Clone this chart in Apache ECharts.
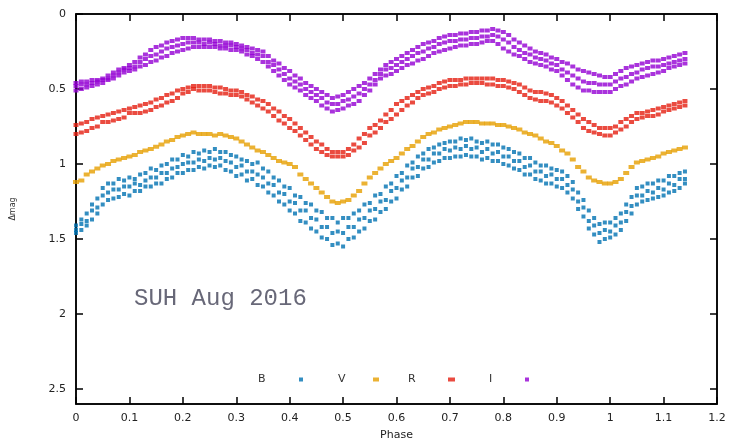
<!DOCTYPE html>
<html>
<head>
<meta charset="utf-8">
<title>SUH Aug 2016 light curves</title>
<script src="https://cdn.jsdelivr.net/npm/echarts@6/dist/echarts.min.js"></script>
<style>
  html, body { margin: 0; padding: 0; background: #fff; }
  #chart { width: 729px; height: 441px; }
</style>
</head>
<body>
<div id="chart"></div>
<script>
// Phase of each sample (one sample per 0.01 in phase, 0 .. 1.14)
const PHASE = [
  0.00,0.01,0.02,0.03,0.04,0.05,0.06,0.07,0.08,0.09,
  0.10,0.11,0.12,0.13,0.14,0.15,0.16,0.17,0.18,0.19,
  0.20,0.21,0.22,0.23,0.24,0.25,0.26,0.27,0.28,0.29,
  0.30,0.31,0.32,0.33,0.34,0.35,0.36,0.37,0.38,0.39,
  0.40,0.41,0.42,0.43,0.44,0.45,0.46,0.47,0.48,0.49,
  0.50,0.51,0.52,0.53,0.54,0.55,0.56,0.57,0.58,0.59,
  0.60,0.61,0.62,0.63,0.64,0.65,0.66,0.67,0.68,0.69,
  0.70,0.71,0.72,0.73,0.74,0.75,0.76,0.77,0.78,0.79,
  0.80,0.81,0.82,0.83,0.84,0.85,0.86,0.87,0.88,0.89,
  0.90,0.91,0.92,0.93,0.94,0.95,0.96,0.97,0.98,0.99,
  1.00,1.01,1.02,1.03,1.04,1.05,1.06,1.07,1.08,1.09,
  1.10,1.11,1.12,1.13,1.14
];

// B band: brighter edge, middle and fainter edge of the scatter (Δmag)
const B_TOP = [
  1.41,1.37,1.33,1.27,1.23,1.16,1.13,1.13,1.10,1.11,
  1.09,1.10,1.07,1.06,1.03,1.04,1.01,1.00,0.97,0.97,
  0.94,0.95,0.92,0.93,0.91,0.92,0.90,0.92,0.92,0.94,
  0.95,0.97,0.98,1.00,0.99,1.03,1.05,1.09,1.11,1.15,
  1.16,1.21,1.22,1.26,1.27,1.31,1.32,1.36,1.36,1.39,
  1.36,1.36,1.33,1.31,1.27,1.26,1.21,1.20,1.15,1.13,
  1.08,1.06,1.01,0.99,0.95,0.93,0.90,0.89,0.87,0.86,
  0.85,0.85,0.83,0.84,0.83,0.85,0.86,0.85,0.87,0.87,
  0.89,0.90,0.92,0.93,0.96,0.96,0.99,1.01,1.01,1.03,
  1.04,1.05,1.08,1.12,1.19,1.24,1.31,1.36,1.40,1.39,
  1.39,1.36,1.33,1.27,1.22,1.16,1.15,1.13,1.13,1.11,
  1.11,1.08,1.08,1.06,1.05
];
const B_MID = [
  1.44,1.40,1.38,1.31,1.29,1.21,1.19,1.17,1.17,1.15,
  1.15,1.13,1.14,1.11,1.09,1.09,1.06,1.06,1.03,1.02,
  1.00,0.99,0.99,0.97,0.98,0.96,0.97,0.96,0.98,0.99,
  1.02,1.01,1.05,1.05,1.07,1.09,1.13,1.14,1.19,1.20,
  1.25,1.26,1.31,1.31,1.36,1.37,1.42,1.42,1.46,1.45,
  1.46,1.42,1.42,1.37,1.36,1.31,1.30,1.25,1.24,1.18,
  1.16,1.11,1.09,1.03,1.02,0.97,0.97,0.93,0.93,0.90,
  0.91,0.89,0.90,0.88,0.90,0.89,0.92,0.90,0.93,0.92,
  0.95,0.95,0.98,0.98,1.02,1.01,1.05,1.05,1.08,1.07,
  1.10,1.10,1.14,1.17,1.25,1.29,1.38,1.41,1.46,1.44,
  1.45,1.41,1.39,1.32,1.28,1.21,1.21,1.18,1.19,1.16,
  1.17,1.13,1.14,1.10,1.10
];
const B_BOT = [
  1.46,1.44,1.41,1.37,1.33,1.27,1.24,1.23,1.22,1.20,
  1.21,1.18,1.18,1.15,1.15,1.13,1.13,1.10,1.09,1.06,
  1.06,1.04,1.04,1.02,1.03,1.01,1.02,1.01,1.04,1.05,
  1.08,1.07,1.11,1.10,1.14,1.15,1.19,1.21,1.25,1.27,
  1.31,1.33,1.38,1.39,1.43,1.45,1.49,1.50,1.54,1.53,
  1.55,1.50,1.49,1.45,1.43,1.38,1.37,1.32,1.30,1.25,
  1.23,1.17,1.15,1.09,1.08,1.03,1.02,0.99,0.98,0.96,
  0.96,0.95,0.95,0.94,0.95,0.95,0.97,0.96,0.98,0.98,
  1.00,1.01,1.03,1.04,1.07,1.07,1.10,1.11,1.13,1.13,
  1.15,1.16,1.19,1.23,1.30,1.35,1.43,1.47,1.52,1.50,
  1.49,1.47,1.44,1.38,1.33,1.27,1.25,1.24,1.23,1.22,
  1.21,1.19,1.18,1.16,1.13
];

// V band (Δmag)
const V_MAG = [
  1.12,1.11,1.07,1.05,1.03,1.01,1.00,0.98,0.97,0.96,
  0.95,0.94,0.92,0.91,0.90,0.885,0.87,0.85,0.84,0.82,
  0.81,0.80,0.79,0.80,0.80,0.80,0.81,0.80,0.81,0.82,
  0.83,0.85,0.87,0.89,0.91,0.92,0.94,0.96,0.98,0.99,
  1.00,1.02,1.07,1.10,1.13,1.16,1.19,1.22,1.25,1.26,
  1.25,1.24,1.21,1.18,1.13,1.09,1.06,1.03,1.00,0.98,
  0.96,0.93,0.90,0.88,0.85,0.82,0.80,0.79,0.77,0.76,
  0.75,0.74,0.73,0.72,0.72,0.72,0.73,0.73,0.73,0.74,
  0.74,0.75,0.76,0.77,0.79,0.80,0.81,0.83,0.85,0.86,
  0.88,0.91,0.93,0.97,1.02,1.05,1.09,1.11,1.12,1.13,
  1.13,1.12,1.10,1.06,1.02,0.99,0.98,0.97,0.96,0.95,
  0.93,0.92,0.91,0.90,0.89
];

// R band: brighter and fainter edge (Δmag)
const R_TOP = [
  0.74,0.73,0.72,0.70,0.69,0.68,0.67,0.66,0.65,0.64,
  0.63,0.62,0.61,0.60,0.59,0.57,0.56,0.54,0.53,0.51,
  0.50,0.49,0.48,0.48,0.48,0.48,0.49,0.49,0.50,0.51,
  0.51,0.52,0.54,0.55,0.57,0.58,0.60,0.63,0.65,0.68,
  0.70,0.73,0.76,0.79,0.82,0.85,0.87,0.90,0.92,0.92,
  0.92,0.90,0.87,0.83,0.80,0.76,0.74,0.71,0.67,0.64,
  0.60,0.58,0.56,0.54,0.52,0.50,0.49,0.48,0.46,0.45,
  0.44,0.44,0.44,0.43,0.43,0.43,0.43,0.43,0.43,0.44,
  0.44,0.45,0.46,0.47,0.49,0.51,0.52,0.52,0.53,0.54,
  0.56,0.58,0.61,0.64,0.67,0.70,0.72,0.74,0.76,0.76,
  0.76,0.75,0.72,0.70,0.68,0.66,0.66,0.65,0.64,0.63,
  0.62,0.61,0.60,0.59,0.58
];
const R_BOT = [
  0.80,0.79,0.78,0.76,0.75,0.72,0.72,0.71,0.70,0.69,
  0.66,0.66,0.66,0.65,0.64,0.62,0.61,0.59,0.58,0.56,
  0.53,0.52,0.50,0.51,0.51,0.51,0.52,0.53,0.53,0.54,
  0.54,0.55,0.57,0.59,0.61,0.63,0.65,0.68,0.71,0.73,
  0.76,0.78,0.81,0.84,0.87,0.90,0.92,0.94,0.95,0.95,
  0.95,0.94,0.91,0.89,0.86,0.81,0.79,0.76,0.72,0.70,
  0.67,0.64,0.61,0.59,0.56,0.54,0.53,0.52,0.50,0.49,
  0.48,0.48,0.47,0.47,0.46,0.46,0.46,0.47,0.47,0.48,
  0.48,0.49,0.50,0.52,0.54,0.56,0.57,0.58,0.58,0.59,
  0.61,0.63,0.66,0.69,0.72,0.76,0.78,0.79,0.80,0.81,
  0.81,0.79,0.77,0.75,0.72,0.70,0.69,0.68,0.68,0.67,
  0.65,0.64,0.63,0.62,0.61
];

// I band: brighter edge, middle and fainter edge (Δmag)
const I_TOP = [
  0.46,0.45,0.45,0.44,0.44,0.43,0.41,0.39,0.37,0.36,
  0.34,0.32,0.29,0.27,0.24,0.22,0.21,0.19,0.18,0.17,
  0.16,0.16,0.16,0.17,0.17,0.17,0.18,0.18,0.19,0.19,
  0.20,0.21,0.22,0.23,0.24,0.25,0.28,0.31,0.33,0.36,
  0.38,0.41,0.43,0.46,0.48,0.50,0.52,0.54,0.56,0.55,
  0.54,0.52,0.50,0.48,0.46,0.43,0.40,0.37,0.34,0.32,
  0.30,0.28,0.26,0.24,0.22,0.20,0.19,0.18,0.16,0.15,
  0.14,0.14,0.13,0.13,0.12,0.12,0.11,0.11,0.10,0.11,
  0.12,0.14,0.17,0.19,0.21,0.23,0.25,0.26,0.27,0.29,
  0.30,0.32,0.33,0.35,0.37,0.38,0.39,0.40,0.41,0.42,
  0.42,0.40,0.38,0.36,0.35,0.34,0.33,0.32,0.31,0.31,
  0.30,0.29,0.28,0.27,0.26
];
const I_MID = [
  0.48,0.47,0.47,0.46,0.45,0.44,0.43,0.41,0.39,0.37,
  0.36,0.35,0.32,0.30,0.28,0.27,0.25,0.23,0.22,0.21,
  0.20,0.19,0.19,0.19,0.20,0.19,0.20,0.21,0.21,0.21,
  0.22,0.23,0.24,0.26,0.27,0.28,0.32,0.34,0.37,0.40,
  0.43,0.45,0.47,0.50,0.52,0.54,0.56,0.59,0.60,0.60,
  0.58,0.57,0.55,0.53,0.50,0.47,0.44,0.40,0.37,0.36,
  0.34,0.32,0.30,0.28,0.26,0.25,0.23,0.22,0.20,0.19,
  0.18,0.18,0.17,0.17,0.16,0.16,0.15,0.15,0.14,0.15,
  0.17,0.19,0.22,0.24,0.26,0.27,0.29,0.30,0.31,0.33,
  0.34,0.37,0.39,0.41,0.43,0.45,0.46,0.46,0.47,0.47,
  0.47,0.45,0.43,0.42,0.40,0.39,0.37,0.36,0.35,0.35,
  0.34,0.33,0.32,0.31,0.30
];
const I_BOT = [
  0.51,0.50,0.49,0.48,0.47,0.46,0.44,0.43,0.41,0.39,
  0.38,0.37,0.35,0.34,0.32,0.31,0.29,0.28,0.26,0.25,
  0.24,0.23,0.22,0.22,0.22,0.22,0.22,0.23,0.23,0.24,
  0.24,0.25,0.27,0.28,0.30,0.32,0.35,0.38,0.41,0.44,
  0.47,0.49,0.51,0.54,0.56,0.58,0.61,0.63,0.65,0.64,
  0.63,0.61,0.60,0.58,0.54,0.51,0.47,0.43,0.41,0.40,
  0.38,0.36,0.34,0.33,0.31,0.30,0.28,0.26,0.25,0.24,
  0.23,0.22,0.21,0.21,0.20,0.20,0.19,0.18,0.18,0.20,
  0.23,0.25,0.27,0.28,0.30,0.32,0.33,0.34,0.35,0.37,
  0.38,0.41,0.44,0.47,0.49,0.51,0.51,0.52,0.52,0.52,
  0.52,0.50,0.48,0.47,0.45,0.43,0.42,0.41,0.40,0.39,
  0.38,0.36,0.35,0.34,0.33
];

// Axis tick labels
const X_TICK_LABELS = ['0','0.1','0.2','0.3','0.4','0.5','0.6','0.7','0.8','0.9','1','1.1','1.2'];
const Y_TICK_LABELS = ['0','0.5','1','1.5','2','2.5'];

const COLORS = { B: '#0072b2', V: '#e69f00', R: '#e51e10', I: '#9400d3' };

function band(...mags) {
  const out = [];
  mags.forEach(arr => arr.forEach((m, i) => out.push([PHASE[i], m])));
  return out;
}

const chart = echarts.init(document.getElementById('chart'), null, { renderer: 'canvas' });

function axisLine() { return { show: true, onZero: false, lineStyle: { color: '#000', width: 1.5 } }; }
function axisTick() { return { show: true, inside: true, length: 7, lineStyle: { color: '#000', width: 1.5 } }; }
function tickFont() { return { fontFamily: 'DejaVu Sans', fontSize: 11, color: '#222' }; }

function legendFor(name, left, textWidth, iconW) {
  return {
    data: [name],
    left: left,
    top: 374,
    orient: 'horizontal',
    align: 'right',
    icon: 'rect',
    itemWidth: iconW,
    itemHeight: 4,
    itemGap: 0,
    padding: 0,
    selectedMode: false,
    formatter: '{t|{name}}',
    textStyle: {
      rich: { t: { width: textWidth, align: 'left', fontFamily: 'DejaVu Sans', fontSize: 11, color: '#333', lineHeight: 12 } }
    }
  };
}

const option = {
  animation: false,
  backgroundColor: '#fff',
  textStyle: { fontFamily: 'DejaVu Sans' },
  grid: {
    left: 76, right: 12, top: 14, bottom: 37,
    containLabel: false, outerBoundsMode: 'none',
    show: true, borderColor: '#000', borderWidth: 1.5, backgroundColor: 'transparent'
  },
  xAxis: [
    {
      type: 'value', position: 'bottom', min: 0, max: 1.2, interval: 0.1,
      axisLine: axisLine(), axisTick: axisTick(),
      splitLine: { show: false },
      axisLabel: Object.assign({
        margin: 9,
        formatter: v => X_TICK_LABELS[Math.round(v * 10)] || ''
      }, tickFont()),
      name: 'Phase', nameLocation: 'middle', nameGap: 26,
      nameTextStyle: { fontFamily: 'DejaVu Sans', fontSize: 11, color: '#222' }
    },
    {
      type: 'value', position: 'top', min: 0, max: 1.2, interval: 0.1,
      axisLine: axisLine(), axisTick: axisTick(),
      splitLine: { show: false },
      axisLabel: { show: false }
    }
  ],
  yAxis: [
    {
      type: 'value', position: 'left', min: 0, max: 2.6, interval: 0.5, inverse: true,
      axisLine: axisLine(), axisTick: axisTick(),
      splitLine: { show: false },
      axisLabel: Object.assign({
        margin: 10,
        showMaxLabel: false,
        formatter: v => {
          const k = v / 0.5;
          return Math.abs(k - Math.round(k)) < 1e-6 ? (Y_TICK_LABELS[Math.round(k)] || '') : '';
        }
      }, tickFont()),
      name: 'Δmag', nameLocation: 'middle', nameGap: 59, nameRotate: 90,
      nameTextStyle: { fontFamily: 'DejaVu Sans', fontSize: 8, color: '#333' }
    },
    {
      type: 'value', position: 'right', min: 0, max: 2.6, interval: 0.5, inverse: true,
      axisLine: axisLine(), axisTick: axisTick(),
      splitLine: { show: false },
      axisLabel: { show: false }
    }
  ],
  legend: [
    legendFor('B', 258, 36, 4),
    legendFor('V', 338, 30, 6),
    legendFor('R', 408, 35, 7),
    legendFor('I', 489, 31, 4)
  ],
  graphic: [
    {
      type: 'text', left: 134, top: 287,
      style: {
        text: 'SUH Aug 2016',
        font: '24px "Liberation Mono", "DejaVu Sans Mono", monospace',
        fill: '#686878'
      }
    }
  ],
  series: [
    {
      name: 'B', type: 'scatter', symbol: 'rect', symbolSize: [4, 4],
      itemStyle: { color: COLORS.B }, data: band(B_TOP, B_MID, B_BOT)
    },
    {
      name: 'V', type: 'scatter', symbol: 'rect', symbolSize: [6, 4],
      itemStyle: { color: COLORS.V }, data: band(V_MAG)
    },
    {
      name: 'R', type: 'scatter', symbol: 'rect', symbolSize: [5, 4],
      itemStyle: { color: COLORS.R }, data: band(R_TOP, R_BOT)
    },
    {
      name: 'I', type: 'scatter', symbol: 'rect', symbolSize: [5, 4],
      itemStyle: { color: COLORS.I }, data: band(I_TOP, I_MID, I_BOT)
    },
    {
      // empty series that binds the mirrored top/right axes to the grid
      name: 'frame', type: 'scatter', xAxisIndex: 1, yAxisIndex: 1,
      data: [], silent: true
    }
  ]
};

chart.setOption(option);
</script>
</body>
</html>
